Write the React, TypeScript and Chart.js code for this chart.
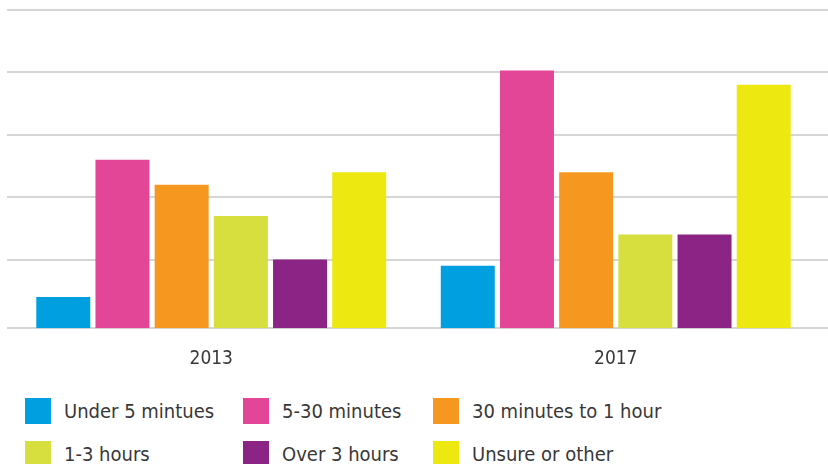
import React, { useEffect, useRef } from "react";
import { Chart, registerables } from "chart.js";

Chart.register(...registerables);

const years = ["2013", "2017"];
const seriesNames = ["Under 5 mintues", "5-30 minutes", "30 minutes to 1 hour", "1-3 hours", "Over 3 hours", "Unsure or other"];
const seriesColors = ["#009fdf", "#e34597", "#f69820", "#d6df3e", "#8c2486", "#ede80f"];
const under5 = [5, 10];
const min5to30 = [27, 41.3];
const min30to1h = [23, 25];
const hours1to3 = [18, 15];
const over3 = [11, 15];
const unsure = [25, 39];
const seriesValues = [under5, min5to30, min30to1h, hours1to3, over3, unsure];
const gridValues = [0, 11, 21, 31, 41, 51];

const FONT = "'DejaVu Sans Condensed', 'DejaVu Sans', sans-serif";

const gridPlugin = {
  id: "fullGrid",
  beforeDatasetsDraw(chart: any) {
    const { ctx, scales } = chart;
    const y = scales.y;
    ctx.save();
    ctx.strokeStyle = "#d6d6d6";
    ctx.lineWidth = 2;
    for (const v of gridValues) {
      const py = Math.round(y.getPixelForValue(v));
      ctx.beginPath();
      ctx.moveTo(7, py);
      ctx.lineTo(chart.width, py);
      ctx.stroke();
    }
    ctx.restore();
  },
};

export default function App() {
  const ref = useRef<HTMLCanvasElement>(null);
  useEffect(() => {
    document.body.style.margin = "0";
    const chart = new Chart(ref.current!, {
      type: "bar",
      data: {
        labels: years,
        datasets: seriesNames.map((n, i) => ({
          label: n,
          data: seriesValues[i],
          backgroundColor: seriesColors[i],
          borderWidth: 0,
          categoryPercentage: 0.878,
          barPercentage: 0.912,
        })),
      },
      options: {
        animation: false,
        responsive: false,
        maintainAspectRatio: false,
        layout: { padding: { left: 9, right: 10, top: 10, bottom: 0 } },
        plugins: { legend: { display: false }, tooltip: { enabled: false } },
        scales: {
          x: {
            grid: { display: false, drawTicks: false },
            border: { display: false },
            ticks: { color: "#383838", font: { family: FONT, size: 19 }, padding: 19 },
          },
          y: {
            display: false,
            min: 0,
            max: 51,
            afterBuildTicks: (s: any) => {
              s.ticks = gridValues.map((v) => ({ value: v }));
            },
          },
        },
      },
      plugins: [gridPlugin],
    });
    return () => chart.destroy();
  }, []);

  const rows = [0, 1];
  const cols = [25, 243, 433];
  const rowTops = [398, 441];

  return (
    <div style={{ position: "relative", width: 828, height: 464, overflow: "hidden", background: "#fff" }}>
      <canvas ref={ref} width={828} height={389} style={{ position: "absolute", left: 0, top: 0 }} />
      {rows.map((r) =>
        cols.map((cx, c) => {
          const i = r * 3 + c;
          return (
            <div key={i} style={{ position: "absolute", left: cx, top: rowTops[r], height: 26, display: "flex", alignItems: "center", whiteSpace: "nowrap" }}>
              <div style={{ width: 26, height: 26, background: seriesColors[i] }} />
              <span style={{ marginLeft: 13, fontFamily: FONT, fontSize: 20, color: "#383838", lineHeight: "26px" }}>{seriesNames[i]}</span>
            </div>
          );
        })
      )}
    </div>
  );
}
